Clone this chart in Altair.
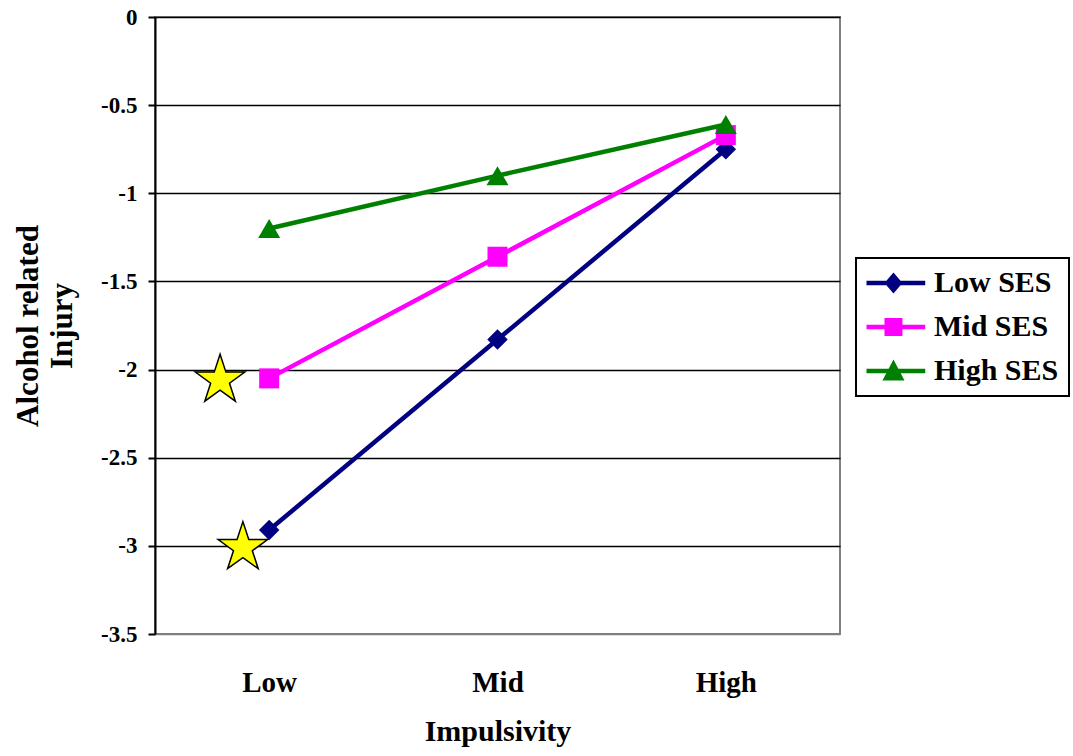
import math
import altair as alt
import pandas as pd

# ---- data ----
categories = ["Low", "Mid", "High"]
series_names = ["Low SES", "Mid SES", "High SES"]
low_ses = [-2.91, -1.83, -0.75]
mid_ses = [-2.05, -1.36, -0.67]
high_ses = [-1.20, -0.90, -0.61]
series_colors = ["#000080", "#FF00FF", "#008000"]
series_shapes = ["diamond", "square", "triangle-up"]
series_sizes = [420, 400, 484]
star_x = [0.285, 0.385]   # position on the category axis (0..3)
star_y = [-2.06, -3.01]
y_ticks = [0, -0.5, -1, -1.5, -2, -2.5, -3, -3.5]

FONT = "Liberation Serif"

rows = []
for name, vals in zip(series_names, [low_ses, mid_ses, high_ses]):
    for i, (c, v) in enumerate(zip(categories, vals)):
        rows.append({"series": name, "cat": c, "x": i + 0.5, "y": v})
df = pd.DataFrame(rows)
stars = pd.DataFrame({"x": star_x, "y": star_y})

# star glyph (unit outer radius)
pts = []
for i in range(10):
    ang = -math.pi / 2 + i * math.pi / 5
    r = 1.0 if i % 2 == 0 else 0.382
    pts.append(f"{r * math.cos(ang):.3f},{r * math.sin(ang):.3f}")
star_path = "M" + "L".join(pts) + "Z"

# legend glyphs: line + marker (units of half symbol size)
line_part = "M-1,-0.15H3.05V0.15H-1Z"
legend_paths = [
    line_part + "M0.86,-0.72L1.48,0L0.86,0.72L0.24,0Z",
    line_part + "M0.24,-0.62H1.48V0.62H0.24Z",
    line_part + "M0.86,-0.8L1.62,0.66H0.1Z",
]

label_expr = "[" + ",".join(f"'{c}'" for c in categories) + "][floor(datum.value)]"

x_enc = alt.X(
    "x:Q",
    scale=alt.Scale(domain=[0, 3], nice=False, zero=False),
    axis=alt.Axis(
        values=[0.5, 1.5, 2.5], labelExpr=label_expr, title="Impulsivity",
        domain=False, ticks=False, grid=False,
        labelFont=FONT, labelFontSize=29, labelFontWeight="bold", labelColor="black",
        labelPadding=34, titleFont=FONT, titleFontSize=30, titleFontWeight="bold",
        titleColor="black", titlePadding=19,
    ),
)
y_enc = alt.Y(
    "y:Q",
    scale=alt.Scale(domain=[-3.5, 0], nice=False, zero=False),
    axis=alt.Axis(
        values=y_ticks, labelExpr="'' + datum.value",
        title=["Alcohol related", "Injury"],
        grid=True,
        gridColor={"condition": {"test": "datum.value <= -3.5", "value": "#808080"}, "value": "black"},
        gridWidth=1.5, domainColor="black", domainWidth=2,
        tickColor="black", tickWidth=2, tickSize=7,
        labelFont=FONT, labelFontSize=23, labelFontWeight="bold", labelColor="black",
        labelPadding=11, titleFont=FONT, titleFontSize=31, titleFontWeight="bold",
        titleColor="black", titleLineHeight=34, titlePadding=22,
    ),
)

layers = []
for name, color, shape, size in zip(series_names, series_colors, series_shapes, series_sizes):
    sub = alt.Chart(df).transform_filter(alt.datum.series == name)
    layers.append(sub.mark_line(strokeWidth=4.5, color=color).encode(x=x_enc, y=y_enc))
    layers.append(
        sub.mark_point(filled=True, size=size, color=color, shape=shape, opacity=1)
        .encode(x=x_enc, y=y_enc)
    )

star_marks = alt.Chart(stars).mark_point(
    shape=star_path, size=2704, filled=True, fill="#FFFF00",
    stroke="black", strokeWidth=1.5, opacity=1,
).encode(x=x_enc, y=y_enc)
layers.append(star_marks)

# legend-only layer (draws no marks; legend built from its scales)
legend = alt.Legend(
    title=None, orient="none", legendX=701, legendY=241, padding=10,
    strokeColor="black", fillColor="white",
    labelFont=FONT, labelFontSize=30, labelFontWeight="bold", labelColor="black",
    labelOffset=38, rowPadding=14, symbolSize=841, labelLimit=400,
    symbolStrokeWidth=0, symbolOpacity=1,
)
legend_layer = alt.Chart(df).transform_filter("false").mark_point(
    filled=True, size=841, opacity=1
).encode(
    x=x_enc, y=y_enc,
    color=alt.Color("series:N", sort=series_names,
                    scale=alt.Scale(domain=series_names, range=series_colors), legend=legend),
    shape=alt.Shape("series:N", sort=series_names,
                    scale=alt.Scale(domain=series_names, range=legend_paths), legend=legend),
)
layers.append(legend_layer)

chart = alt.layer(*layers).properties(
    width=685, height=617,
    autosize=alt.AutoSizeParams(type="none"),
    padding={"left": 155, "top": 17, "right": 233, "bottom": 122},
    background="white",
).configure_view(stroke="#808080", strokeWidth=2).configure_legend(strokeWidth=2)

chart.save("out.html", embed_options={"renderer": "svg", "actions": False})
